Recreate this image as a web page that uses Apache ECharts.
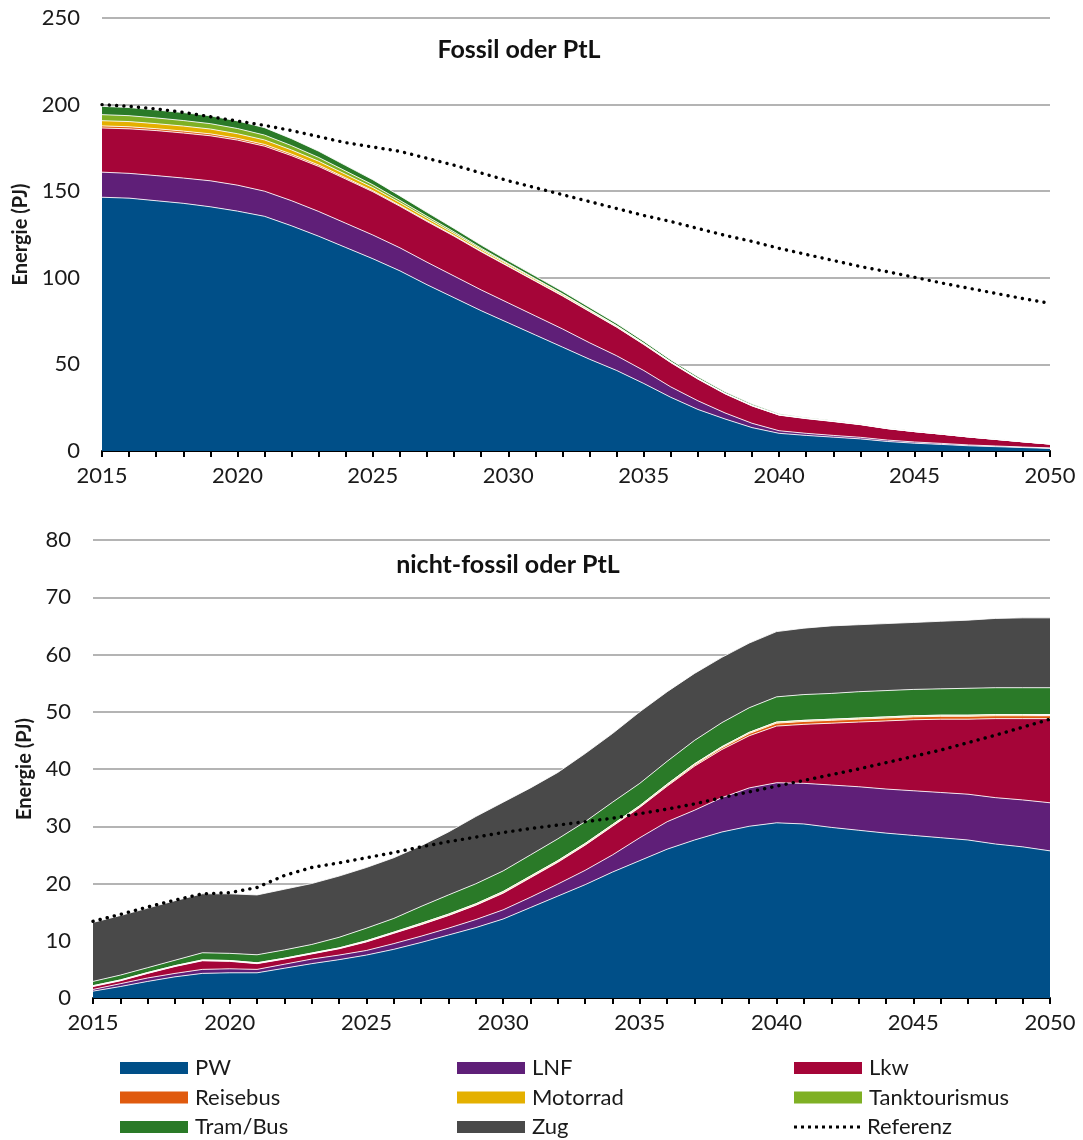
<!DOCTYPE html>
<html>
<head>
<meta charset="utf-8">
<script src="https://cdn.jsdelivr.net/npm/echarts@6/dist/echarts.min.js"></script>
<style>
html,body{margin:0;padding:0;background:#fff;}
#chart{width:1083px;height:1140px;}
</style>
</head>
<body>
<div id="chart"></div>
<script>
// ---------------- DATA ----------------
const years = ['2015','2016','2017','2018','2019','2020','2021','2022','2023','2024','2025','2026','2027','2028','2029','2030','2031','2032','2033','2034','2035','2036','2037','2038','2039','2040','2041','2042','2043','2044','2045','2046','2047','2048','2049','2050'];

const seriesNames = ['PW','LNF','Lkw','Reisebus','Motorrad','Tanktourismus','Tram/Bus','Zug'];
const refName = 'Referenz';

// Top panel: Fossil oder PtL (PJ)
const fossilPW    = [146.5,146,144.5,143,141,138.5,135.5,130,124,117.5,111,104,96,88.5,81,74,67,60,53,46.5,39,31,24,18.5,13.5,10.2,9,8,7,5.5,4.5,3.8,3,2.5,2,1.5];
const fossilLNF   = [14.5,14.3,14.5,14.6,15,15,14.5,14.5,14.3,14,13.7,13.3,13,12.5,12,11.5,11,10.5,9.5,8.5,7.5,6,5,3.5,2.5,1.5,1.2,1,0.9,0.8,0.7,0.6,0.5,0.4,0.3,0.3];
const fossilLkw   = [25.5,25.7,26,26,26,26,26,26,26,25.5,25,24,23.5,23,22,21,20,19,18,16.5,15,14,12.5,11,10,9,8.5,8,7.3,6.6,6,5.3,4.6,3.8,3,2.2];
const fossilReise = [1.2,1.2,1.1,1.1,1.1,1.0,1.0,0.9,0.8,0.7,0.6,0.5,0.5,0.4,0.4,0.3,0.3,0.3,0.2,0.2,0.2,0.2,0.1,0.1,0.1,0.1,0.1,0.1,0.1,0,0,0,0,0,0,0];
const fossilMoto  = [3.0,3.0,2.9,2.9,2.8,2.7,2.6,2.4,2.2,2.0,1.8,1.6,1.4,1.2,1.0,0.9,0.8,0.7,0.6,0.5,0.4,0.3,0.3,0.2,0.2,0.1,0.1,0.1,0.1,0.1,0,0,0,0,0,0];
const fossilTank  = [3.5,3.4,3.3,3.2,3.1,3.0,2.8,2.5,2.2,1.9,1.6,1.3,1.1,0.9,0.7,0.5,0.4,0.3,0.3,0.2,0.2,0.1,0.1,0.1,0.1,0,0,0,0,0,0,0,0,0,0,0];
const fossilTram  = [4.8,4.7,4.6,4.6,4.5,4.4,4.3,4.0,3.6,3.2,2.9,2.6,2.3,2.0,1.8,1.6,1.5,1.4,1.3,1.2,1.1,1.0,0.9,0.8,0.7,0.6,0.5,0.4,0.4,0.3,0.3,0.2,0.2,0.2,0.1,0.1];
const fossilRef   = [200,199,197.5,195.5,193,190.5,188,185,181.5,178,175.5,173,169,165,160.5,156,152,148,144,140,136,132.5,128.5,124.5,121,117,113.5,110,106.5,103.5,100.3,97,94,91,88,85.3];

// Bottom panel: nicht-fossil oder PtL (PJ)
const nfPW    = [1.2,2.0,2.9,3.7,4.3,4.4,4.4,5.2,6.0,6.7,7.5,8.5,9.7,11.0,12.3,13.8,15.8,17.8,19.8,22.0,24.0,26.0,27.6,29.0,30.0,30.6,30.4,29.8,29.3,28.8,28.4,28.0,27.6,26.9,26.4,25.7];
const nfLNF   = [0.3,0.5,0.6,0.6,0.7,0.7,0.6,0.7,0.8,0.8,0.8,1.0,1.1,1.2,1.4,1.6,1.8,2.1,2.5,3.0,4.0,4.8,5.2,6.0,6.7,7.0,7.1,7.4,7.6,7.7,7.8,7.9,8.0,8.1,8.2,8.4];
const nfLkw   = [0.5,0.5,0.8,1.2,1.5,1.3,1.0,0.9,0.9,1.1,1.5,1.8,2.0,2.2,2.5,2.9,3.4,3.8,4.4,5.0,5.3,6.2,7.7,8.4,9.1,9.9,10.3,10.8,11.3,11.9,12.4,12.8,13.1,13.8,14.2,14.7];
const nfReise = [0.05,0.05,0.05,0.05,0.05,0.05,0.05,0.05,0.05,0.05,0.05,0.05,0.05,0.05,0.05,0.1,0.1,0.1,0.1,0.1,0.1,0.15,0.2,0.3,0.4,0.5,0.5,0.5,0.5,0.5,0.5,0.5,0.5,0.5,0.5,0.5];
const nfMoto  = [0.1,0.1,0.1,0.1,0.1,0.1,0.1,0.1,0.1,0.1,0.15,0.15,0.2,0.2,0.2,0.2,0.2,0.2,0.2,0.2,0.2,0.2,0.2,0.2,0.2,0.2,0.2,0.2,0.2,0.2,0.2,0.2,0.2,0.2,0.2,0.2];
const nfTank  = [0,0,0,0,0,0,0,0,0,0,0,0,0,0,0,0,0,0,0,0,0,0,0,0,0,0,0,0,0,0,0,0,0,0,0,0];
const nfTram  = [0.75,0.85,0.85,0.95,1.25,1.25,1.4,1.45,1.5,1.85,2.2,2.4,2.95,3.35,3.5,3.6,3.7,3.8,3.8,3.9,3.9,4.0,4.1,4.2,4.3,4.4,4.5,4.5,4.6,4.6,4.6,4.6,4.7,4.7,4.7,4.7];
const nfZug   = [10.3,10.4,10.4,10.4,10.3,10.4,10.45,10.6,10.65,10.7,10.6,10.6,10.6,11.0,11.75,12.0,11.7,11.6,11.9,12.0,12.5,12.15,11.7,11.4,11.3,11.4,11.6,11.8,11.7,11.7,11.7,11.8,11.9,12.1,12.2,12.2];
const nfRef   = [13.4,14.6,15.9,17.1,18.2,18.4,19.3,21.4,22.8,23.6,24.5,25.4,26.4,27.3,28.1,28.9,29.6,30.2,30.8,31.4,32.2,33.0,33.9,35.0,36.0,37.0,38.0,39.0,40.0,41.1,42.2,43.3,44.6,45.9,47.3,48.7];

const topTicks = [0, 250, 50];   // min, max, interval
const botTicks = [0, 80, 10];

// ---------------- STYLE ----------------
const colors = {
  'PW':'#004f88','LNF':'#5f1f78','Lkw':'#a50538','Reisebus':'#e05a0e',
  'Motorrad':'#e4b000','Tanktourismus':'#7fb024','Tram/Bus':'#2a7a28','Zug':'#494949'
};
const FONT = 'Lato, "Open Sans", sans-serif';

const fossilData = [fossilPW, fossilLNF, fossilLkw, fossilReise, fossilMoto, fossilTank, fossilTram, null];
const nfData = [nfPW, nfLNF, nfLkw, nfReise, nfMoto, nfTank, nfTram, nfZug];

function areaSeries(name, data, idx, stack) {
  return {
    name: name, type: 'line', stack: stack, data: data,
    xAxisIndex: idx, yAxisIndex: idx,
    symbol: 'none', showSymbol: false, silent: true,
    color: colors[name],
    lineStyle: { color: 'rgba(255,255,255,0.85)', width: 1 },
    areaStyle: { color: colors[name], opacity: 1 },
    emphasis: { disabled: true },
    z: 2
  };
}
function refSeries(data, idx) {
  return {
    name: refName, type: 'line', data: data,
    xAxisIndex: idx, yAxisIndex: idx,
    symbol: 'none', showSymbol: false, silent: true,
    color: '#000',
    lineStyle: { color: '#000', width: 3.4, type: [0.1, 7.2], cap: 'round' },
    emphasis: { disabled: true },
    z: 5
  };
}

const series = [];
seriesNames.forEach((n, i) => { if (fossilData[i]) series.push(areaSeries(n, fossilData[i], 0, 'fossil')); });
series.push(refSeries(fossilRef, 0));
seriesNames.forEach((n, i) => { series.push(areaSeries(n, nfData[i], 1, 'nf')); });
series.push(refSeries(nfRef, 1));

function xAxisCfg(gridIndex) {
  return {
    type: 'category', gridIndex: gridIndex, data: years, boundaryGap: false,
    axisLine: { show: true, lineStyle: { color: '#000', width: 2 } },
    axisTick: { show: true, interval: 0, length: 6, inside: false, lineStyle: { color: '#000', width: 2 } },
    axisLabel: { interval: 4, fontSize: 22, color: '#1a1a1a', margin: 14, fontFamily: FONT },
    splitLine: { show: false }
  };
}
function yAxisCfg(gridIndex, t, gap, margin) {
  return {
    type: 'value', gridIndex: gridIndex, min: t[0], max: t[1], interval: t[2],
    name: 'Energie (PJ)', nameLocation: 'middle', nameRotate: 90, nameGap: gap,
    nameTextStyle: { fontSize: 20, fontWeight: 'bold', color: '#1a1a1a', fontFamily: FONT },
    axisLine: { show: false }, axisTick: { show: false },
    axisLabel: { fontSize: 22, color: '#1a1a1a', margin: margin, fontFamily: FONT },
    splitLine: { show: true, lineStyle: { color: '#b4b4b4', width: 2 } }
  };
}

const legendBase = {
  orient: 'vertical', itemWidth: 68, itemHeight: 12, itemGap: 5.5,
  padding: 0, height: 110,
  selectedMode: false,
  itemStyle: { borderWidth: 0 },
  textStyle: { fontSize: 22, lineHeight: 24, color: '#1a1a1a', fontFamily: FONT, padding: [0,0,0,2] }
};
const dotPath = 'path://' + [0,1,2,3,4,5,6,7,8,9].map(i => 'M' + (i*7) + ',0h3v3h-3z').join(' ');

const option = {
  animation: false,
  backgroundColor: '#fff',
  textStyle: { fontFamily: FONT },
  title: [
    { text: 'Fossil oder PtL', left: 514, top: 32, textAlign: 'center',
      textStyle: { fontSize: 25, fontWeight: 'bold', color: '#111', fontFamily: FONT } },
    { text: 'nicht-fossil oder PtL', left: 503, top: 547, textAlign: 'center',
      textStyle: { fontSize: 25, fontWeight: 'bold', color: '#111', fontFamily: FONT } }
  ],
  grid: [
    { left: 102, right: 33, top: 18, height: 433, containLabel: false, outerBoundsMode: 'none' },
    { left: 93, right: 33, top: 540, height: 458, containLabel: false, outerBoundsMode: 'none' }
  ],
  xAxis: [xAxisCfg(0), xAxisCfg(1)],
  yAxis: [yAxisCfg(0, topTicks, 66, 22), yAxisCfg(1, botTicks, 48, 22)],
  legend: [
    Object.assign({}, legendBase, { left: 120, top: 1056, data: [{name:'PW',icon:'rect'},{name:'Reisebus',icon:'rect'},{name:'Tram/Bus',icon:'rect'}] }),
    Object.assign({}, legendBase, { left: 457, top: 1056, data: [{name:'LNF',icon:'rect'},{name:'Motorrad',icon:'rect'},{name:'Zug',icon:'rect'}] }),
    Object.assign({}, legendBase, { left: 794, top: 1056, data: [{name:'Lkw',icon:'rect'},{name:'Tanktourismus',icon:'rect'}] }),
    Object.assign({}, legendBase, { left: 794, top: 1115, itemWidth: 66, itemHeight: 3, data: [{name:refName, icon: dotPath}] })
  ],
  series: series
};

const chart = echarts.init(document.getElementById('chart'), null, { renderer: 'canvas' });
chart.setOption(option);
</script>
</body>
</html>
